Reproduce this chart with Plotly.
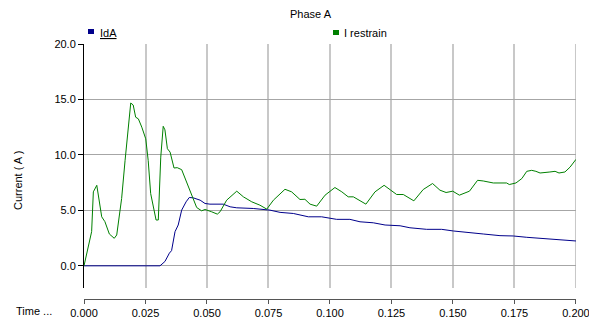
import plotly.graph_objects as go

# ---- data ----
t_restrain = [0, 0.0031, 0.0038, 0.0052, 0.0072, 0.0085, 0.0103, 0.0123, 0.0133, 0.0153,
              0.0167, 0.0176, 0.019, 0.02, 0.021, 0.0221, 0.0235, 0.0251, 0.0261, 0.0271,
              0.0282, 0.0293, 0.0302, 0.0312, 0.0322, 0.0329, 0.0339, 0.035, 0.0366, 0.0379,
              0.0397, 0.0415, 0.0431, 0.0444, 0.0458, 0.0478, 0.0492, 0.0519, 0.0542, 0.0553,
              0.058, 0.0621, 0.0648, 0.0682, 0.0715, 0.0743, 0.077, 0.0817, 0.0844, 0.0878,
              0.0898, 0.0919, 0.0946, 0.098, 0.102, 0.1048, 0.1074, 0.1095, 0.1146, 0.1183,
              0.122, 0.1247, 0.1271, 0.1298, 0.1318, 0.1341, 0.1379, 0.1417, 0.1447, 0.1472,
              0.1499, 0.1526, 0.1567, 0.16, 0.1623, 0.1664, 0.1718, 0.1729, 0.1756, 0.178,
              0.18, 0.182, 0.1837, 0.1854, 0.1894, 0.1915, 0.1931, 0.1955, 0.1976, 0.2]
i_restrain = [0, 3.08, 6.67, 7.26, 4.42, 3.98, 2.87, 2.48, 2.78, 6.07,
              9.51, 11.6, 14.68, 14.5, 13.4, 13.25, 12.5, 11.45, 9.5, 6.52,
              5.32, 4.13, 4.13, 9.8, 12.58, 12.26, 10.56, 10.25, 8.82, 8.85,
              8.67, 7.71, 6.82, 6.07, 5.26, 4.96, 5.08, 4.87, 4.66, 4.87,
              5.92, 6.73, 6.22, 5.77, 5.47, 5.11, 5.92, 6.9, 6.67, 5.98,
              6.0, 5.56, 5.38, 6.37, 7.06, 6.67, 6.22, 6.22, 5.56, 6.67,
              7.26, 6.82, 6.43, 6.43, 6.13, 5.86, 6.88, 7.42, 6.82, 6.61,
              6.73, 6.37, 6.73, 7.71, 7.65, 7.47, 7.47, 7.33, 7.47, 7.87,
              8.52, 8.61, 8.52, 8.37, 8.46, 8.52, 8.37, 8.46, 8.9, 9.6]

t_ida = [0, 0.0309, 0.0329, 0.0347, 0.0356, 0.037, 0.0383, 0.0397, 0.0415, 0.0428,
         0.0444, 0.0472, 0.0492, 0.0512, 0.0566, 0.0594, 0.0621, 0.0688, 0.0756, 0.0797,
         0.0851, 0.0912, 0.0966, 0.1027, 0.1081, 0.1122, 0.1176, 0.1224, 0.1285, 0.1325,
         0.1393, 0.1454, 0.1502, 0.1556, 0.1623, 0.1691, 0.1745, 0.18, 0.1854, 0.1908,
         0.1962, 0.2]
i_ida = [0, 0.0, 0.39, 1.14, 1.37, 3.08, 3.68, 5.02, 5.77, 6.16,
         6.13, 5.92, 5.62, 5.56, 5.56, 5.32, 5.23, 5.17, 5.02, 4.82,
         4.72, 4.42, 4.42, 4.19, 4.19, 3.97, 3.88, 3.68, 3.61, 3.43,
         3.29, 3.29, 3.14, 2.99, 2.87, 2.72, 2.69, 2.57, 2.48, 2.39,
         2.33, 2.24]

x_ticks = [0, 0.025, 0.05, 0.075, 0.1, 0.125, 0.15, 0.175, 0.2]
y_ticks = [0, 5, 10, 15, 20]

BLUE = "#00008B"
GREEN = "#008000"
FONT = "Liberation Sans"
GRIDX = "#c8c8c8"

W, H = 589, 320
L, R, T, B = 84, 13, 44, 21
PW, PH = W - L - R, H - T - B


def px(x):
    return (x - L) / PW


def py(y):
    return (H - B - y) / PH


Y_DOMAIN = [py(288), 1]

fig = go.Figure()
fig.add_trace(go.Scatter(x=t_ida, y=i_ida, mode="lines", name="IdA",
                         line=dict(color=BLUE, width=1)))
fig.add_trace(go.Scatter(x=t_restrain, y=i_restrain, mode="lines", name="I restrain",
                         line=dict(color=GREEN, width=1)))

fig.update_layout(
    width=W, height=H,
    margin=dict(l=L, r=R, t=T, b=B, pad=0, autoexpand=False),
    paper_bgcolor="white", plot_bgcolor="white",
    showlegend=False,
    font=dict(family=FONT, size=11, color="black"),
    xaxis=dict(range=[0, 0.20001], tickvals=x_ticks, tickformat=".3f",
               anchor="free", position=0, automargin=False,
               ticklabeloverflow="allow",
               showgrid=True, gridcolor=GRIDX, gridwidth=2,
               zeroline=False, showline=True, linecolor="#555555", linewidth=1,
               ticks="outside", ticklen=4, tickcolor="#555555",
               tickfont=dict(family=FONT, size=11, color="black")),
    yaxis=dict(range=[-2.0, 20.00001], tickvals=y_ticks, tickformat=".1f",
               domain=Y_DOMAIN, automargin=False,
               showgrid=True, gridcolor="#a6a6a6", gridwidth=1,
               zeroline=False, showline=True, linecolor="black", linewidth=1,
               ticks="outside", ticklen=5, tickcolor="black",
               tickfont=dict(family=FONT, size=11, color="black")),
)

annotations = [
    dict(text="Phase A", x=px(311), y=py(14), xanchor="center", yanchor="middle",
         font=dict(size=11)),
    dict(text="Current ( A )", x=px(18), y=py(181), textangle=-90,
         xanchor="center", yanchor="middle", font=dict(size=11)),
    dict(text="Time ...", x=px(14), y=py(311), xanchor="left", yanchor="middle",
         font=dict(size=11)),
    dict(text="<u>IdA</u>", x=px(98), y=py(33), xanchor="left", yanchor="middle",
         font=dict(size=11)),
    dict(text="I restrain", x=px(342), y=py(33), xanchor="left", yanchor="middle",
         font=dict(size=11)),
]
for a in annotations:
    a.update(xref="paper", yref="paper", showarrow=False)
fig.update_layout(annotations=annotations)

# last vertical gridline (plotly clips the gridline at the range end)
fig.add_shape(type="line", xref="x", yref="paper",
              x0=x_ticks[-1], x1=x_ticks[-1], y0=Y_DOMAIN[0], y1=Y_DOMAIN[1],
              line=dict(color=GRIDX, width=2), layer="below")

fig.add_shape(type="rect", xref="paper", yref="paper",
              x0=px(88), x1=px(94), y0=py(34), y1=py(29),
              fillcolor=BLUE, line=dict(width=0))
fig.add_shape(type="rect", xref="paper", yref="paper",
              x0=px(333), x1=px(339), y0=py(35), y1=py(30),
              fillcolor=GREEN, line=dict(width=0))

fig.write_html("out.html")
